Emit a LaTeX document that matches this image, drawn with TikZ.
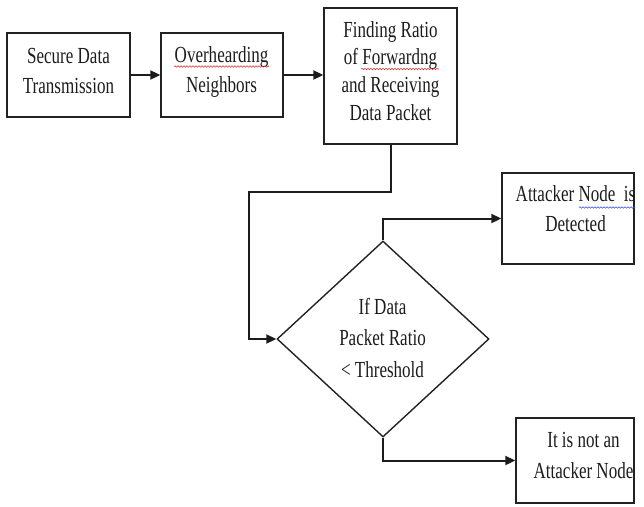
\documentclass[tikz,border=0pt]{standalone}
\usepackage{fontspec}
\setmainfont[FakeStretch=0.74]{Liberation Serif}
\usetikzlibrary{arrows.meta,shapes.geometric,decorations.pathmorphing}

\definecolor{ink}{HTML}{1C1C1C}
\definecolor{frame}{HTML}{222222}
\definecolor{spellred}{HTML}{E03030}
\definecolor{spellblue}{HTML}{3050E0}

\begin{document}
\begin{tikzpicture}[x=1pt,y=-1pt,
  box/.style={draw=frame,line width=1.4pt,rectangle,inner sep=0pt},
  decision/.style={draw=frame,line width=1.4pt,diamond,inner sep=0pt,
    minimum width=212pt,minimum height=196pt},
  txt/.style={align=center,inner sep=0pt,text=ink,
    font=\fontsize{23}{30}\selectfont},
  flow/.style={draw=ink,line width=2pt,-{Triangle[length=10pt,width=9pt]}},
  squiggle/.style={line width=0.6pt,decorate,
    decoration={snake,amplitude=0.7pt,segment length=3pt}}]

\useasboundingbox (0,0) rectangle (644,506);

% process boxes
\node[box,minimum width=123pt,minimum height=84pt] (b1) at (68.5,75) {};
\node[box,minimum width=122pt,minimum height=84pt] (b2) at (222,75) {};
\node[box,minimum width=133pt,minimum height=136pt] (b3) at (390.5,76) {};
\node[decision] (d) at (383,339) {};
\node[box,minimum width=132pt,minimum height=91pt] (b4) at (568,218.5) {};
\node[box,minimum width=118pt,minimum height=85pt] (b5) at (575,460.5) {};

% labels
\node[txt] (t1) at (68.5,70.8) {Secure Data\\Transmission};
\node[txt] (t2) at (221.5,72) {Overhearding\\Neighbors};
\node[txt,font=\fontsize{23}{27.7}\selectfont] (t3) at (390.5,70.7)
  {Finding Ratio\\of Forwardng\\and Receiving\\Data Packet};
\node[txt,font=\fontsize{23}{31.5}\selectfont] (td) at (382.5,337.7)
  {If Data\\Packet Ratio\\< Threshold};
\node[txt] (t4) at (575.5,209) {Attacker Node\ \ is\\Detected};
\node[txt,font=\fontsize{23}{31}\selectfont] (t5) at (583.5,455)
  {It is not an\\Attacker Node};

% spell-check underlines
\draw[squiggle,spellred] (174,66.5) -- (269,66.5);
\draw[squiggle,spellred] (361,69) -- (439,69);
\draw[squiggle,spellblue] (579,207.5) -- (635,207.5);

% connectors
\coordinate (turn) at (249,192);
\draw[flow] (b1.east) -- (b2.west);
\draw[flow] (b2.east) -- (b2.east -| b3.west);
\draw[flow] (b3.south) |- (turn) |- (d.west);
\draw[flow] (d.north) |- (b4.west);
\draw[flow] (d.south) |- (b5.west);
\end{tikzpicture}
\end{document}
